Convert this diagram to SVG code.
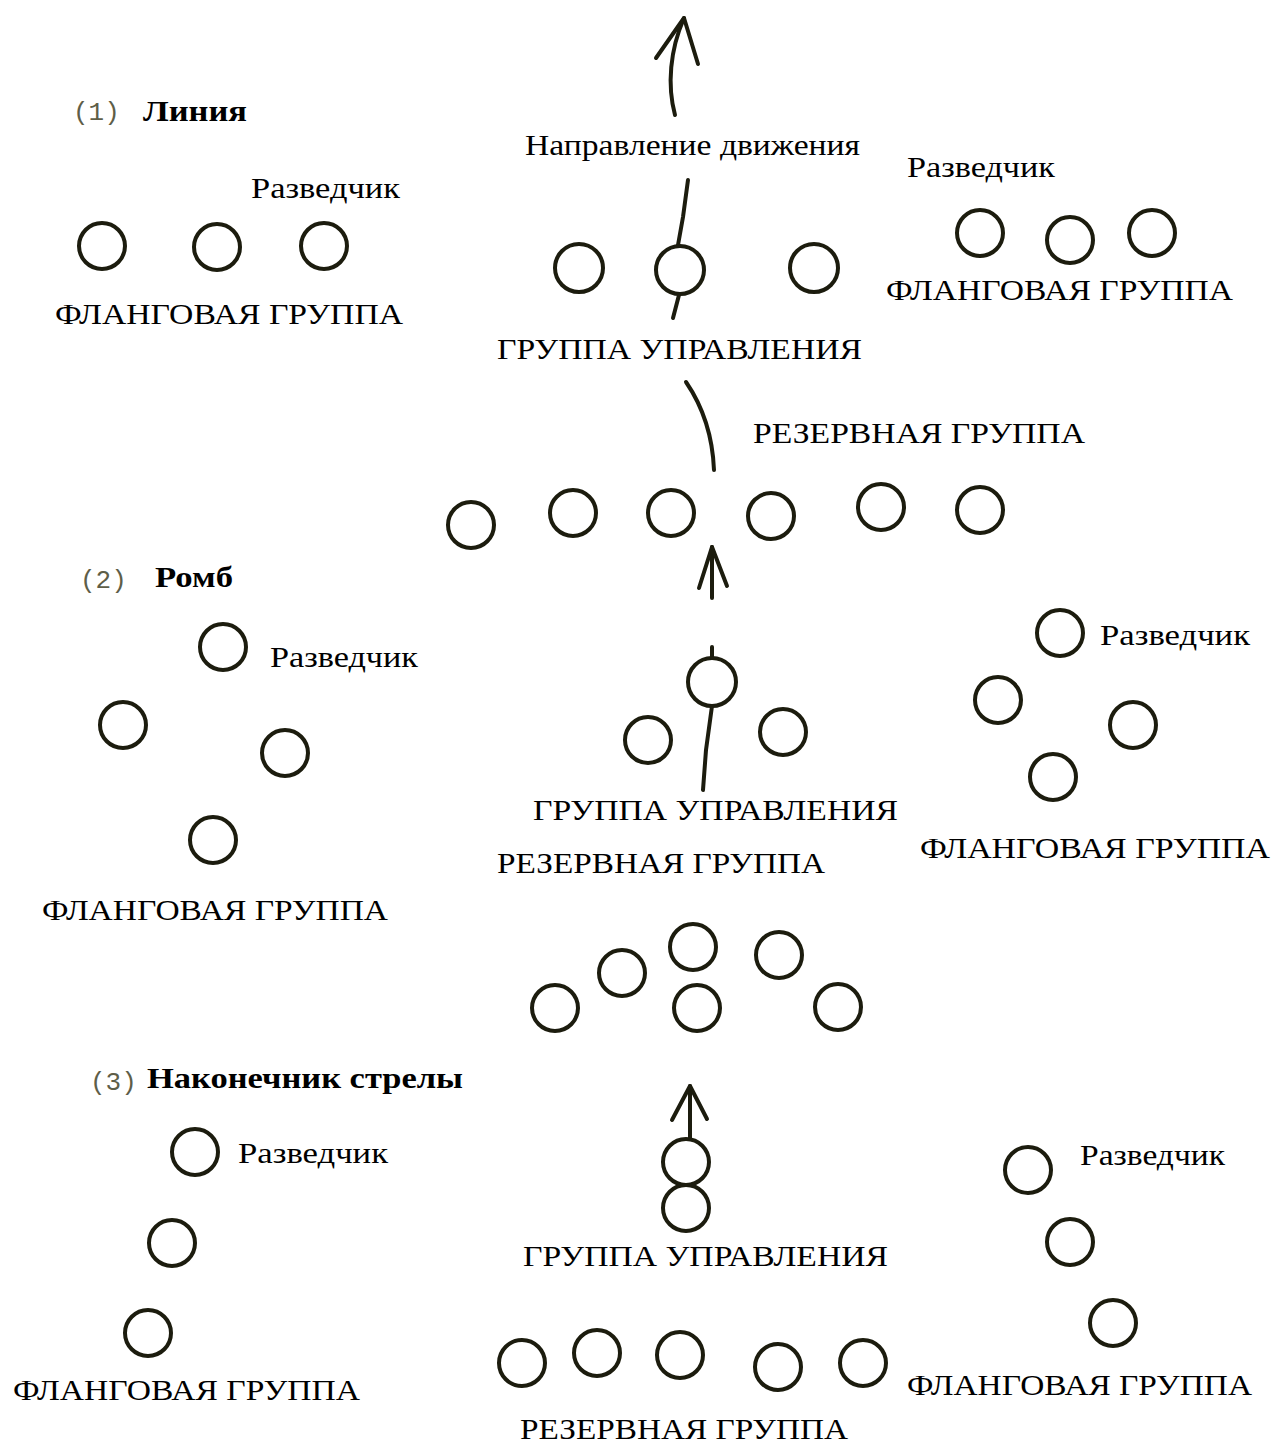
<svg xmlns="http://www.w3.org/2000/svg" width="1275" height="1443" viewBox="0 0 1275 1443">
<style>
.c{fill:none;stroke:#1c1c0e;stroke-width:4}
.ln{fill:none;stroke:#1c1c0e;stroke-width:4;stroke-linecap:round;stroke-linejoin:round}
.t{font-family:"Liberation Serif","Times New Roman",serif;font-size:30px;fill:#000}
.h{font-family:"Liberation Serif","Times New Roman",serif;font-size:30px;font-weight:bold;fill:#000}
.n{font-family:"Liberation Mono","Courier New",monospace;font-size:26px;fill:#5e5e48}
</style>
<rect width="1275" height="1443" fill="#fff"/>

<g id="connectors">
  <path class="ln" d="M675,115 C667,85 670,50 684,18"/>
  <path class="ln" d="M656,58 L684,18 L698,64"/>
  <path class="ln" d="M688,180 L683,217 L678,245"/>
  <path class="ln" d="M679,295 L673,318"/>
  <path class="ln" d="M686,382 Q712,420 714,470"/>
  <path class="ln" d="M712,598 L712,547"/>
  <path class="ln" d="M699,588 L712,547 L727,586"/>
  <path class="ln" d="M712,647 L712,658"/>
  <path class="ln" d="M712,706 L706,750 L703,790"/>
  <path class="ln" d="M690,1138 L690,1086"/>
  <path class="ln" d="M672,1120 L690,1086 L707,1119"/>
</g>

<!-- Section 1: Line -->
<g id="title1"><text class="n" x="73" y="120">(1)</text><text class="h" x="143" y="121" textLength="104" lengthAdjust="spacingAndGlyphs">Линия</text></g>
<g id="l-scout-label"><text class="t" x="251" y="198" textLength="149" lengthAdjust="spacingAndGlyphs">Разведчик</text></g>
<g id="l-flank1"><circle class="c" cx="102" cy="246" r="23"/></g>
<g id="l-flank2"><circle class="c" cx="217" cy="247" r="23"/></g>
<g id="l-flank3"><circle class="c" cx="324" cy="246" r="23"/></g>
<g id="l-flank-label"><text class="t" x="55" y="324" textLength="348" lengthAdjust="spacingAndGlyphs">ФЛАНГОВАЯ ГРУППА</text></g>

<g id="direction-label"><text class="t" x="525" y="155" textLength="335" lengthAdjust="spacingAndGlyphs">Направление движения</text></g>
<g id="l-ctrl1"><circle class="c" cx="579" cy="268" r="24"/></g>
<g id="l-ctrl2"><circle class="c" cx="680" cy="270" r="24"/></g>
<g id="l-ctrl3"><circle class="c" cx="814" cy="268" r="24"/></g>
<g id="l-ctrl-label"><text class="t" x="497" y="359" textLength="365" lengthAdjust="spacingAndGlyphs">ГРУППА УПРАВЛЕНИЯ</text></g>

<g id="r-scout-label"><text class="t" x="907" y="177" textLength="148" lengthAdjust="spacingAndGlyphs">Разведчик</text></g>
<g id="r-flank1"><circle class="c" cx="980" cy="233" r="23"/></g>
<g id="r-flank2"><circle class="c" cx="1070" cy="240" r="23"/></g>
<g id="r-flank3"><circle class="c" cx="1152" cy="233" r="23"/></g>
<g id="r-flank-label"><text class="t" x="886" y="300" textLength="347" lengthAdjust="spacingAndGlyphs">ФЛАНГОВАЯ ГРУППА</text></g>

<g id="l-reserve-label"><text class="t" x="753" y="443" textLength="332" lengthAdjust="spacingAndGlyphs">РЕЗЕРВНАЯ ГРУППА</text></g>
<g id="l-res1"><circle class="c" cx="471" cy="525" r="23"/></g>
<g id="l-res2"><circle class="c" cx="573" cy="513" r="23"/></g>
<g id="l-res3"><circle class="c" cx="671" cy="513" r="23"/></g>
<g id="l-res4"><circle class="c" cx="771" cy="516" r="23"/></g>
<g id="l-res5"><circle class="c" cx="881" cy="507" r="23"/></g>
<g id="l-res6"><circle class="c" cx="980" cy="510" r="23"/></g>

<!-- Section 2: Rhomb -->
<g id="title2"><text class="n" x="80" y="588">(2)</text><text class="h" x="155" y="587" textLength="78" lengthAdjust="spacingAndGlyphs">Ромб</text></g>
<g id="d-l-scout"><circle class="c" cx="223" cy="647" r="23"/></g>
<g id="d-l-scout-label"><text class="t" x="270" y="667" textLength="148" lengthAdjust="spacingAndGlyphs">Разведчик</text></g>
<g id="d-l-2"><circle class="c" cx="123" cy="725" r="23"/></g>
<g id="d-l-3"><circle class="c" cx="285" cy="753" r="23"/></g>
<g id="d-l-4"><circle class="c" cx="213" cy="840" r="23"/></g>
<g id="d-l-flank-label"><text class="t" x="42" y="920" textLength="346" lengthAdjust="spacingAndGlyphs">ФЛАНГОВАЯ ГРУППА</text></g>

<g id="d-ctrl1"><circle class="c" cx="712" cy="682" r="24"/></g>
<g id="d-ctrl2"><circle class="c" cx="648" cy="740" r="23"/></g>
<g id="d-ctrl3"><circle class="c" cx="783" cy="732" r="23"/></g>
<g id="d-ctrl-label"><text class="t" x="533" y="820" textLength="365" lengthAdjust="spacingAndGlyphs">ГРУППА УПРАВЛЕНИЯ</text></g>
<g id="d-reserve-label"><text class="t" x="497" y="873" textLength="328" lengthAdjust="spacingAndGlyphs">РЕЗЕРВНАЯ ГРУППА</text></g>

<g id="d-r-scout"><circle class="c" cx="1060" cy="633" r="23"/></g>
<g id="d-r-scout-label"><text class="t" x="1100" y="645" textLength="150" lengthAdjust="spacingAndGlyphs">Разведчик</text></g>
<g id="d-r-2"><circle class="c" cx="998" cy="700" r="23"/></g>
<g id="d-r-3"><circle class="c" cx="1133" cy="725" r="23"/></g>
<g id="d-r-4"><circle class="c" cx="1053" cy="777" r="23"/></g>
<g id="d-r-flank-label"><text class="t" x="920" y="858" textLength="350" lengthAdjust="spacingAndGlyphs">ФЛАНГОВАЯ ГРУППА</text></g>

<g id="d-res1"><circle class="c" cx="555" cy="1008" r="23"/></g>
<g id="d-res2"><circle class="c" cx="622" cy="973" r="23"/></g>
<g id="d-res3"><circle class="c" cx="693" cy="947" r="23"/></g>
<g id="d-res4"><circle class="c" cx="697" cy="1008" r="23"/></g>
<g id="d-res5"><circle class="c" cx="779" cy="955" r="23"/></g>
<g id="d-res6"><circle class="c" cx="838" cy="1007" r="23"/></g>

<!-- Section 3: Arrowhead -->
<g id="title3"><text class="n" x="90" y="1090">(3)</text><text class="h" x="147" y="1088" textLength="316" lengthAdjust="spacingAndGlyphs">Наконечник стрелы</text></g>
<g id="a-l-scout"><circle class="c" cx="195" cy="1152" r="23"/></g>
<g id="a-l-scout-label"><text class="t" x="238" y="1163" textLength="150" lengthAdjust="spacingAndGlyphs">Разведчик</text></g>
<g id="a-l-2"><circle class="c" cx="172" cy="1243" r="23"/></g>
<g id="a-l-3"><circle class="c" cx="148" cy="1333" r="23"/></g>
<g id="a-l-flank-label"><text class="t" x="13" y="1400" textLength="347" lengthAdjust="spacingAndGlyphs">ФЛАНГОВАЯ ГРУППА</text></g>

<g id="a-ctrl1"><circle class="c" cx="686" cy="1162" r="23"/></g>
<g id="a-ctrl2"><circle class="c" cx="686" cy="1208" r="23"/></g>
<g id="a-ctrl-label"><text class="t" x="523" y="1266" textLength="365" lengthAdjust="spacingAndGlyphs">ГРУППА УПРАВЛЕНИЯ</text></g>

<g id="a-res1"><circle class="c" cx="522" cy="1363" r="23"/></g>
<g id="a-res2"><circle class="c" cx="597" cy="1353" r="23"/></g>
<g id="a-res3"><circle class="c" cx="680" cy="1355" r="23"/></g>
<g id="a-res4"><circle class="c" cx="778" cy="1367" r="23"/></g>
<g id="a-res5"><circle class="c" cx="863" cy="1363" r="23"/></g>
<g id="a-reserve-label"><text class="t" x="520" y="1439" textLength="328" lengthAdjust="spacingAndGlyphs">РЕЗЕРВНАЯ ГРУППА</text></g>

<g id="a-r-scout"><circle class="c" cx="1028" cy="1170" r="23"/></g>
<g id="a-r-scout-label"><text class="t" x="1080" y="1165" textLength="145" lengthAdjust="spacingAndGlyphs">Разведчик</text></g>
<g id="a-r-2"><circle class="c" cx="1070" cy="1242" r="23"/></g>
<g id="a-r-3"><circle class="c" cx="1113" cy="1323" r="23"/></g>
<g id="a-r-flank-label"><text class="t" x="907" y="1395" textLength="345" lengthAdjust="spacingAndGlyphs">ФЛАНГОВАЯ ГРУППА</text></g>
</svg>
